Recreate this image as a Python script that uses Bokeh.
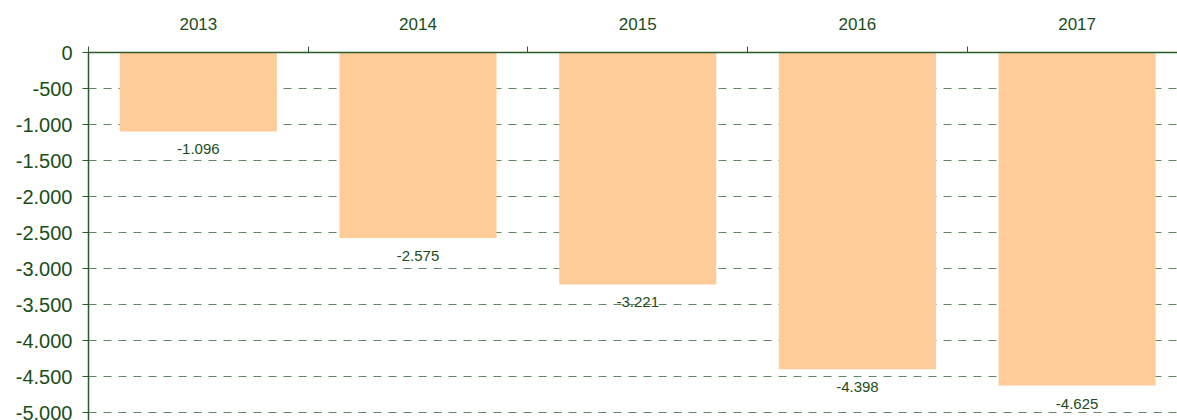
from bokeh.plotting import figure
from bokeh.models import Range1d, FixedTicker, LinearAxis, ColumnDataSource, LabelSet
from bokeh.core.properties import value
from bokeh.embed import file_html
from bokeh.resources import INLINE

years = ["2013", "2014", "2015", "2016", "2017"]
values = [-1096, -2575, -3221, -4398, -4625]
y_ticks = [0, -500, -1000, -1500, -2000, -2500, -3000, -3500, -4000, -4500, -5000]


def fmt(v):
    s = f"{abs(int(v)):,}".replace(",", ".")
    return ("-" if v < 0 else "") + s


TEXT = "#1b4d1b"
AXIS = "#2a5a2a"
FONT = "Liberation Sans"

xs = [i + 0.5 for i in range(len(years))]
src = ColumnDataSource(dict(x=xs, top=[0] * len(values), bottom=values,
                            lab=[fmt(v) for v in values]))

p = figure(width=1177, height=420, output_backend="svg", toolbar_location=None,
           x_range=Range1d(0, 4.957), y_range=Range1d(-5111, 0),
           x_axis_location=None, y_axis_location=None,
           min_border_left=88, min_border_right=0, min_border_top=52, min_border_bottom=0)
p.outline_line_color = None
p.background_fill_color = "white"
p.border_fill_color = "white"

p.vbar(x="x", top="top", bottom="bottom", width=0.715, source=src,
       fill_color="#FFCC99", line_color=None)

labels = LabelSet(x="x", y="bottom", text="lab", source=src, text_align="center",
                  text_baseline="top", y_offset=-13, text_font=value(FONT),
                  text_font_size=value("15px"), text_color=TEXT)
p.add_layout(labels)

# y axis
yax = LinearAxis(ticker=FixedTicker(ticks=y_ticks, minor_ticks=[]),
                 major_label_overrides={t: fmt(t) for t in y_ticks})
yax.axis_line_color = AXIS
yax.axis_line_width = 1.5
yax.major_tick_line_color = AXIS
yax.major_tick_out = 6
yax.major_tick_in = 0
yax.minor_tick_line_color = None
yax.major_label_standoff = 10
yax.major_label_text_font = FONT
yax.major_label_text_font_size = "20px"
yax.major_label_text_color = TEXT
p.add_layout(yax, "left")

# top axis: labels at band centres, ticks at band boundaries
xax = LinearAxis(ticker=FixedTicker(ticks=xs, minor_ticks=[0, 1, 2, 3, 4]),
                 major_label_overrides={x: y for x, y in zip(xs, years)})
xax.axis_line_color = AXIS
xax.axis_line_width = 1.5
xax.major_tick_line_color = None
xax.major_tick_out = 0
xax.major_tick_in = 0
xax.minor_tick_line_color = AXIS
xax.minor_tick_out = 6
xax.minor_tick_in = 0
xax.major_label_standoff = 17
xax.major_label_text_font = FONT
xax.major_label_text_font_size = "17px"
xax.major_label_text_color = TEXT
p.add_layout(xax, "above")

p.xgrid.visible = False
p.ygrid.ticker = FixedTicker(ticks=y_ticks)
p.ygrid.grid_line_color = "#2f5f2f"
p.ygrid.grid_line_alpha = 0.75
p.ygrid.grid_line_dash = "8 7"
p.ygrid.grid_line_width = 1
p.ygrid.level = "underlay"

open("out.html", "w").write(file_html(p, INLINE))
